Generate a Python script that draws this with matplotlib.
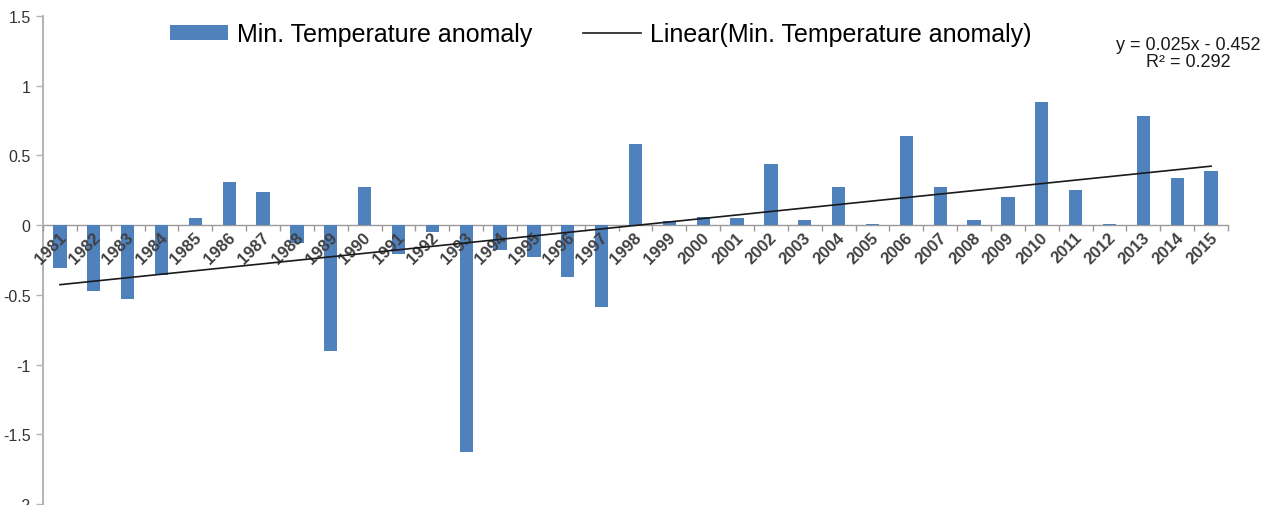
import matplotlib
matplotlib.use("Agg")
import matplotlib.pyplot as plt
import matplotlib.transforms as mtransforms
import numpy as np

years = [str(y) for y in range(1981, 2016)]
anomaly = [-0.31, -0.47, -0.53, -0.36, 0.05, 0.31, 0.24, -0.13, -0.90, 0.27,
           -0.21, -0.05, -1.63, -0.18, -0.23, -0.37, -0.59, 0.58, 0.03, 0.06,
           0.05, 0.44, 0.04, 0.27, 0.01, 0.64, 0.27, 0.04, 0.20, 0.88,
           0.25, 0.01, 0.78, 0.34, 0.39]
trend_slope = 0.025
trend_intercept = -0.452
r_squared = 0.292
yticks = [-2, -1.5, -1, -0.5, 0, 0.5, 1, 1.5]
ytick_labels = ["-2", "-1.5", "-1", "-0.5", "0", "0.5", "1", "1.5"]

plt.rcParams['font.family'] = ['Liberation Sans', 'DejaVu Sans']

W, H = 1265, 506
fig = plt.figure(figsize=(W / 100, H / 100), dpi=100)
ax = fig.add_axes([43 / W, 1 / H, (1228 - 43) / W, (505 - 17) / H])

x = np.arange(len(years))
bars = ax.bar(x, anomaly, width=0.39, color='#4F81BD', zorder=2,
              label='Min. Temperature anomaly')

xn = np.arange(1, len(years) + 1)
trend = trend_slope * xn + trend_intercept
line, = ax.plot(x, trend, color='#1a1a1a', lw=1.2, zorder=5,
                label='Linear(Min. Temperature anomaly)')

ax.set_xlim(-0.5, len(years) - 0.5)
ax.set_ylim(-2, 1.5)

for s in ['top', 'right']:
    ax.spines[s].set_visible(False)
ax.spines['left'].set_color('#b3b3b3')
ax.spines['left'].set_linewidth(1.4)
ax.spines['bottom'].set_position(('data', 0))
ax.spines['bottom'].set_color('#9a9a9a')
ax.spines['bottom'].set_linewidth(1.0)
ax.spines['bottom'].set_zorder(1)
ax.xaxis.set_zorder(4)

ax.set_yticks(yticks)
ax.set_yticklabels(ytick_labels)
ax.tick_params(axis='y', direction='out', length=5, width=1.0, color='#b3b3b3',
               labelsize=11.5, labelcolor='#333333', pad=4)

ax.set_xticks(x)
ax.set_xticks(np.arange(len(years) + 1) - 0.5, minor=True)
ax.tick_params(axis='x', which='major', length=0, pad=3)
ax.tick_params(axis='x', which='minor', direction='out', length=4, width=1.0,
               color='#9a9a9a')
ax.set_xticklabels(years, rotation=45, ha='right', va='top',
                   fontsize=12, fontweight='bold', color='#404040')
offset = mtransforms.ScaledTranslation(9 / 100, 0, fig.dpi_scale_trans)
for lab in ax.get_xticklabels():
    lab.set_transform(lab.get_transform() + offset)

fig.legend(handles=[bars, line], loc='center left', ncol=2, frameon=False,
           bbox_to_anchor=(170 / W, 1 - 35 / H), fontsize=18,
           handlelength=2.33, handleheight=0.56, handletextpad=0.36,
           columnspacing=2.0, borderpad=0, borderaxespad=0)

fig.text(1188 / W, 1 - 54 / H,
         f"y = {trend_slope}x - {abs(trend_intercept)}\nR² = {r_squared}",
         ha='center', va='center', multialignment='center', fontsize=13,
         linespacing=1.0, color='#1a1a1a')

fig.savefig('out.png', dpi=100)
